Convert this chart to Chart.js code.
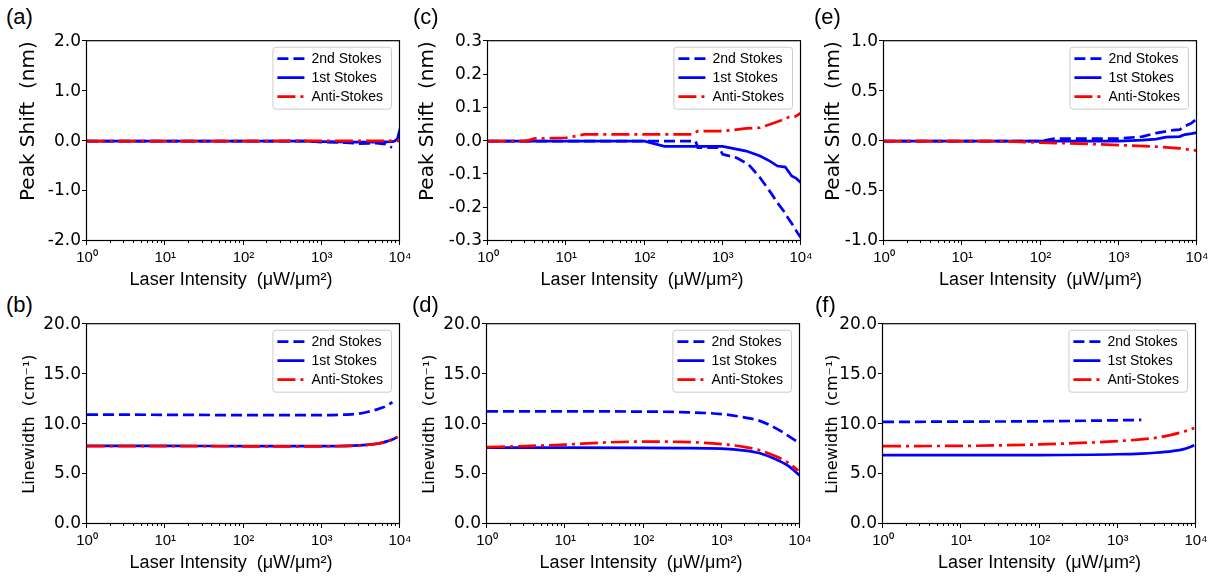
<!DOCTYPE html>
<html lang="en">
<head>
<meta charset="UTF-8">
<title>Peak shift and linewidth vs laser intensity</title>
<script src="https://cdn.jsdelivr.net/npm/chart.js"></script>
<style>
    body {
        margin: 0;
        width: 1223px;
        height: 583px;
        position: relative;
        overflow: hidden;
        background: #fff;
        font-family: 'Liberation Sans', Arial, sans-serif;
    }
    canvas { position: absolute; }
    .tag {
        position: absolute;
        font-size: 22px;
        line-height: 22px;
        color: #000;
    }
</style>
</head>
<body>
<script>
// ---- data ----
const seriesNames = ['2nd Stokes', '1st Stokes', 'Anti-Stokes'];
const xMajorTicks = [1, 10, 100, 1000, 10000];
const xTickLabels = ['10\u2070', '10\u00b9', '10\u00b2', '10\u00b3', '10\u2074'];
const yTicksA = [-2, -1, 0, 1, 2];
const yTicksC = [-0.3, -0.2, -0.1, 0, 0.1, 0.2, 0.3];
const yTicksE = [-1, -0.5, 0, 0.5, 1];
const yTicksWidth = [0, 5, 10, 15, 20];

// (a) peak shift
const aX2 = [1, 600, 1000, 2000, 3000, 5000, 6500, 7900];
const aY2 = [0, 0, -0.02, -0.03, -0.05, -0.04, -0.06, -0.13];
const aX1 = [1, 600, 1000, 3000, 5000, 8000, 8600, 9300, 10000];
const aY1 = [0, 0, -0.01, -0.02, -0.02, -0.01, 0, 0.05, 0.25];
const aXA = [1, 100, 1000, 10000];
const aYA = [0, 0, 0.005, 0.005];

// (b) linewidth
const bX2 = [1, 10, 100, 1000, 2000, 3000, 4000, 5000, 6000, 7000, 8000];
const bY2 = [10.95, 10.93, 10.9, 10.9, 10.95, 11.05, 11.25, 11.45, 11.65, 11.9, 12.2];
const bX1 = [1, 10, 100, 1000, 2000, 3000, 4000, 5000, 6000, 7000, 8000, 9300];
const bY1 = [7.82, 7.82, 7.8, 7.8, 7.82, 7.87, 7.95, 8.03, 8.15, 8.3, 8.45, 8.72];
const bXA = [1, 10, 100, 1000, 2000, 3000, 4000, 5000, 6000, 7000, 8000, 9300];
const bYA = [7.8, 7.8, 7.78, 7.78, 7.8, 7.85, 7.93, 8.02, 8.14, 8.3, 8.46, 8.74];

// (c) peak shift
const cX2 = [1, 450, 480, 900, 1000, 1500, 2140, 3000, 4250, 5000, 6000, 7000, 8000, 9000, 10000];
const cY2 = [0, 0, -0.02, -0.02, -0.04, -0.05, -0.07, -0.11, -0.16, -0.185, -0.21, -0.235, -0.255, -0.275, -0.29];
const cX1 = [1, 100, 180, 1000, 2000, 3000, 4000, 5000, 6300, 7600, 8700, 10000];
const cY1 = [0, 0, -0.016, -0.016, -0.03, -0.045, -0.06, -0.075, -0.078, -0.105, -0.112, -0.125];
const cXA = [1, 3, 4, 10, 17, 400, 480, 1000, 2000, 3000, 5000, 6000, 7000, 8500, 10000];
const cYA = [0, 0, 0.008, 0.01, 0.02, 0.02, 0.03, 0.03, 0.038, 0.04, 0.058, 0.065, 0.072, 0.074, 0.085];

// (d) linewidth
const dX2 = [1, 10, 100, 300, 1000, 2000, 3000, 5000, 7000, 10000];
const dY2 = [11.27, 11.27, 11.25, 11.2, 11.0, 10.65, 10.35, 9.55, 8.85, 8.05];
const dX1 = [1, 10, 100, 300, 1000, 2000, 3000, 5000, 7000, 10000];
const dY1 = [7.64, 7.64, 7.62, 7.6, 7.55, 7.35, 7.1, 6.45, 5.85, 4.84];
const dXA = [1, 3, 10, 30, 100, 300, 1000, 2000, 3000, 5000, 7000, 9500];
const dYA = [7.7, 7.8, 7.95, 8.15, 8.25, 8.22, 8.0, 7.7, 7.4, 6.75, 6.15, 5.35];

// (e) peak shift
const eX2 = [1, 100, 150, 1000, 2000, 3000, 5000, 6000, 7000, 8500, 10000];
const eY2 = [0, 0, 0.025, 0.025, 0.045, 0.08, 0.11, 0.115, 0.15, 0.18, 0.225];
const eX1 = [1, 1000, 2000, 3000, 4000, 6000, 7000, 8500, 10000];
const eY1 = [0, 0, 0.01, 0.02, 0.04, 0.045, 0.065, 0.075, 0.085];
const eXA = [1, 30, 100, 300, 1000, 3000, 6000, 10000];
const eYA = [0, 0, -0.015, -0.025, -0.04, -0.055, -0.072, -0.096];

// (f) linewidth
const fX2 = [1, 10, 100, 1000, 2000];
const fY2 = [10.22, 10.25, 10.28, 10.38, 10.42];
const fX1 = [1, 10, 100, 1000, 2000, 3000, 5000, 7000, 9500];
const fY1 = [6.89, 6.89, 6.9, 6.98, 7.05, 7.13, 7.3, 7.5, 7.87];
const fXA = [1, 10, 100, 1000, 3000, 5000, 7000, 9500];
const fYA = [7.8, 7.82, 7.97, 8.3, 8.62, 8.95, 9.25, 9.6];

// ---- layout / styling ----
const ARIAL = "'Liberation Sans', Arial, sans-serif";
const DEJAVU = "'DejaVu Sans', sans-serif";
const PAD_T = 14, PAD_R = 22, X_AXIS_H = 50, PLOT_W = 313, PLOT_H = 202;
const xTitle = 'Laser Intensity  (\u03bcW/\u03bcm\u00b2)';
const shiftTitle = 'Peak Shift  (nm)';
const widthTitle = 'Linewidth  (cm\u207b\u00b9)';

// later series sit on top, like the original plot order
const lineStyles = [
    { color: '#0000ff', dash: [11, 5], order: 2 },
    { color: '#0000ff', dash: [], order: 1 },
    { color: '#ff0000', dash: [18, 5, 3, 5], order: 0 }
];

// minor ticks at 2..9 of every decade
const xAllTicks = [];
xMajorTicks.forEach((m, i) => {
    if (i === xMajorTicks.length - 1) { xAllTicks.push(m); return; }
    for (let k = 1; k <= 9; k++) xAllTicks.push(m * k);
});

const panels = [
    { tag: '(a)', tagX: 6, tagY: 6, left: 87, top: 39, yw: 70, ticks: yTicksA, title: shiftTitle, row: 0, smooth: false, xPad: 5,
      xs: [aX2, aX1, aXA], ys: [aY2, aY1, aYA] },
    { tag: '(c)', tagX: 413, tagY: 6, left: 488, top: 39, yw: 72, ticks: yTicksC, title: shiftTitle, row: 0, smooth: false, xPad: 1,
      xs: [cX2, cX1, cXA], ys: [cY2, cY1, cYA] },
    { tag: '(e)', tagX: 814, tagY: 6, left: 884, top: 39, yw: 62, ticks: yTicksE, title: shiftTitle, row: 0, smooth: false, xPad: 0,
      xs: [eX2, eX1, eXA], ys: [eY2, eY1, eYA] },
    { tag: '(b)', tagX: 6, tagY: 294, left: 87, top: 322, yw: 67, ticks: yTicksWidth, title: widthTitle, row: 1, smooth: true, xPad: 5,
      xs: [bX2, bX1, bXA], ys: [bY2, bY1, bYA] },
    { tag: '(d)', tagX: 412, tagY: 294, left: 487, top: 322, yw: 67, ticks: yTicksWidth, title: widthTitle, row: 1, smooth: true, xPad: 1,
      xs: [dX2, dX1, dXA], ys: [dY2, dY1, dYA] },
    { tag: '(f)', tagX: 815, tagY: 294, left: 883, top: 322, yw: 60, ticks: yTicksWidth, title: widthTitle, row: 1, smooth: true, xPad: 0,
      xs: [fX2, fX1, fXA], ys: [fY2, fY1, fYA] }
];

// matplotlib-like legend box in the upper right of the axes
const legendFrame = {
    id: 'legendFrame',
    afterLayout(chart) {
        const lg = chart.legend, a = chart.chartArea;
        const o = lg.options.labels;
        const fs = o.font.size;
        chart.ctx.font = fs + 'px ' + o.font.family;
        const tw = Math.max(...lg.legendItems.map(it => chart.ctx.measureText(it.text).width));
        const w = o.padding + o.pointStyleWidth + fs / 2 + tw + 8;
        lg.left = a.right - 9 - w;
        lg.right = lg.left + w;
        lg.width = w;
        lg.top = a.top + 5.5;
        lg.bottom = a.bottom;
        lg._frameH = lg.legendItems.length * (fs + o.padding) + o.padding;
    },
    beforeDraw(chart) {
        const lg = chart.legend, ctx = chart.ctx;
        ctx.save();
        ctx.beginPath();
        ctx.roundRect(lg.left + 0.5, lg.top + 0.5, lg.width, lg._frameH, 3);
        ctx.fillStyle = '#ffffff';
        ctx.fill();
        ctx.strokeStyle = '#cccccc';
        ctx.lineWidth = 1;
        ctx.stroke();
        ctx.restore();
    }
};

// axes box and outward tick marks
const axesFrame = {
    id: 'axesFrame',
    afterDraw(chart) {
        const { ctx, chartArea: a, scales: { x, y } } = chart;
        ctx.save();
        ctx.strokeStyle = '#000';
        ctx.lineWidth = 1;
        ctx.beginPath();
        x.ticks.forEach(t => {
            const px = Math.round(x.getPixelForValue(t.value)) - 0.5;
            const len = xMajorTicks.includes(t.value) ? 4 : 2;
            ctx.moveTo(px, a.bottom);
            ctx.lineTo(px, a.bottom + len);
        });
        y.ticks.forEach(t => {
            const py = Math.round(y.getPixelForValue(t.value)) - 0.5;
            ctx.moveTo(a.left - 5, py);
            ctx.lineTo(a.left, py);
        });
        ctx.stroke();
        ctx.lineWidth = 1.2;
        ctx.strokeRect(a.left - 0.5, a.top - 0.5, a.right - a.left, a.bottom - a.top);
        ctx.restore();
    }
};

function legendLabels(chart) {
    // point-style legend items lose the dash, so take it from the dataset
    return Chart.defaults.plugins.legend.labels.generateLabels(chart).map(item => {
        const ds = chart.data.datasets[item.datasetIndex];
        item.lineDash = ds.borderDash;
        item.lineWidth = ds.borderWidth;
        item.strokeStyle = ds.borderColor;
        return item;
    });
}

panels.forEach(p => {
    const tag = document.createElement('div');
    tag.className = 'tag';
    tag.style.left = p.tagX + 'px';
    tag.style.top = p.tagY + 'px';
    tag.textContent = p.tag;
    document.body.appendChild(tag);

    const canvas = document.createElement('canvas');
    canvas.width = p.yw + PLOT_W + PAD_R;
    canvas.height = PAD_T + PLOT_H + X_AXIS_H;
    canvas.style.left = (p.left - p.yw) + 'px';
    canvas.style.top = (p.top - PAD_T) + 'px';
    document.body.appendChild(canvas);

    const datasets = seriesNames.map((name, i) => ({
        label: name,
        data: p.xs[i].map((xv, j) => ({ x: xv, y: p.ys[i][j] })),
        order: lineStyles[i].order,
        borderColor: lineStyles[i].color,
        backgroundColor: lineStyles[i].color,
        borderDash: lineStyles[i].dash,
        borderWidth: 2.7,
        borderCapStyle: 'butt',
        pointRadius: 0,
        tension: 0,
        cubicInterpolationMode: p.smooth ? 'monotone' : 'default',
        fill: false
    }));

    new Chart(canvas, {
        type: 'line',
        data: { datasets },
        options: {
            responsive: false,
            animation: false,
            devicePixelRatio: 1,
            layout: { padding: { top: PAD_T, right: PAD_R, left: 0, bottom: 0 } },
            plugins: {
                tooltip: { enabled: false },
                legend: {
                    position: 'chartArea',
                    align: 'start',
                    labels: {
                        usePointStyle: true,
                        pointStyle: 'line',
                        pointStyleWidth: 27,
                        padding: 5,
                        color: '#000',
                        font: { family: ARIAL, size: 14 },
                        generateLabels: legendLabels,
                        sort: (a, b) => a.datasetIndex - b.datasetIndex
                    }
                }
            },
            scales: {
                x: {
                    type: 'logarithmic',
                    min: 1,
                    max: 10000,
                    grid: { display: false, drawTicks: false },
                    border: { display: false },
                    afterBuildTicks: s => { s.ticks = xAllTicks.map(v => ({ value: v })); },
                    afterFit: s => { s.height = X_AXIS_H; },
                    ticks: {
                        autoSkip: false,
                        maxRotation: 0,
                        padding: 8,
                        color: '#000',
                        font: { family: ARIAL, size: 15 },
                        callback: v => {
                            const i = xMajorTicks.indexOf(v);
                            return i >= 0 ? xTickLabels[i] : '';
                        }
                    },
                    title: {
                        display: true,
                        text: xTitle + '\u00a0'.repeat(p.xPad),
                        color: '#000',
                        padding: 0,
                        font: { family: ARIAL, size: 18 }
                    }
                },
                y: {
                    type: 'linear',
                    min: p.ticks[0],
                    max: p.ticks[p.ticks.length - 1],
                    grid: { display: false, drawTicks: false },
                    border: { display: false },
                    afterBuildTicks: s => { s.ticks = p.ticks.map(v => ({ value: v })); },
                    afterFit: s => { s.width = p.yw; },
                    ticks: {
                        padding: 6,
                        color: '#000',
                        font: { family: DEJAVU, size: 17 },
                        callback: v => v.toFixed(1)
                    },
                    title: {
                        display: true,
                        text: p.title,
                        color: '#000',
                        padding: 0,
                        align: p.row === 0 ? 'end' : 'center',
                        font: { family: DEJAVU, size: p.row === 0 ? 20 : 16 }
                    }
                }
            }
        },
        plugins: [legendFrame, axesFrame]
    });
});
</script>
</body>
</html>
